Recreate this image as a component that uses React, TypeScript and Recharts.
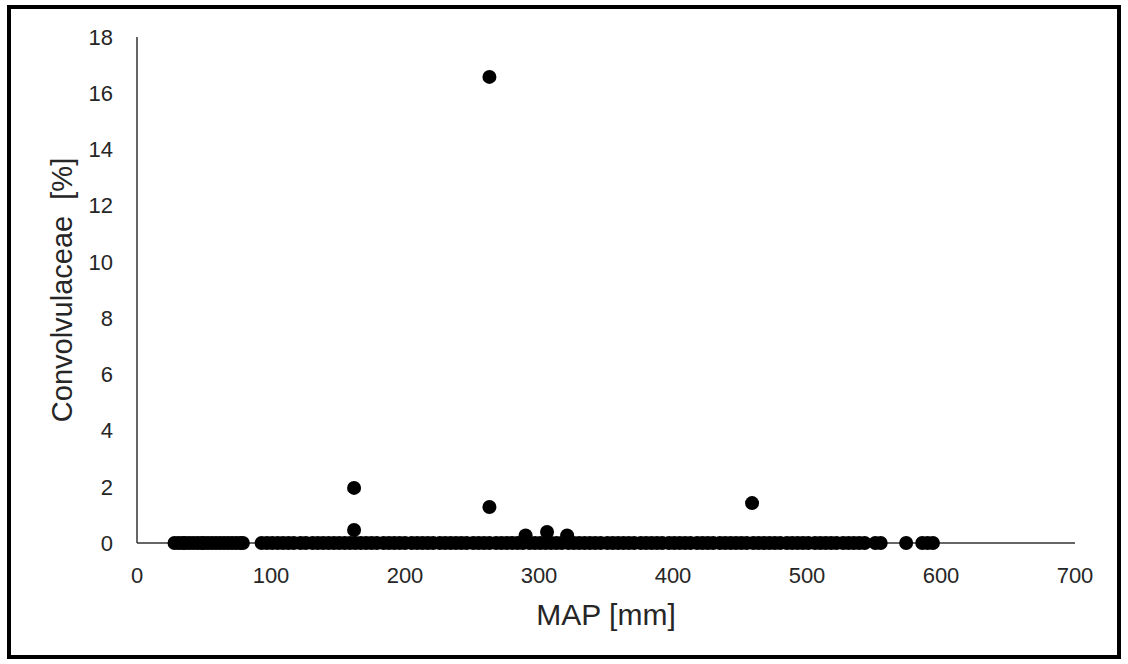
import { ScatterChart, Scatter, XAxis, YAxis } from "recharts";

// samples with zero Convolvulaceae, by MAP [mm]
const zeroMap = [
  28, 31, 34, 36, 39, 42, 45, 48, 50, 53, 56, 59, 62, 65, 68, 71, 74, 77, 79,
  93, 97, 101, 105, 109, 113, 117, 122, 126, 131, 135, 139, 143, 147, 151, 155,
  159, 163, 167, 171, 175, 179, 184, 188, 192, 196, 200, 205, 209, 213, 217,
  221, 226, 230, 234, 238, 242, 246, 251, 255, 259, 263, 268, 272, 276, 280,
  284, 288, 293, 297, 301, 305, 309, 313, 317, 322, 326, 330, 334, 338, 342,
  346, 351, 355, 359, 363, 367, 371, 376, 380, 384, 388, 392, 397, 401, 405,
  409, 413, 418, 422, 426, 430, 435, 439, 443, 447, 451, 455, 460, 464, 468,
  472, 476, 480, 485, 489, 493, 497, 501, 506, 510, 514, 518, 522, 527, 531,
  535, 539, 543, 551, 555, 574, 586, 590, 594,
];

// samples with pollen present
const presentMap = [162, 162, 263, 263, 290, 306, 321, 459];
const presentPct = [1.96, 0.46, 16.58, 1.28, 0.27, 0.39, 0.27, 1.42];

const xTicks = [0, 100, 200, 300, 400, 500, 600, 700];
const yTicks = [0, 2, 4, 6, 8, 10, 12, 14, 16, 18];

const data = [
  ...zeroMap.map((map) => ({ map, pct: 0 })),
  ...presentMap.map((map, i) => ({ map, pct: presentPct[i] })),
];

const font = "'Liberation Sans', Arial, sans-serif";
const tickStyle = { fontSize: 22, fill: "#262626", fontFamily: font };

const Dot = (props: any) => <circle cx={props.cx} cy={props.cy} r={7} fill="#000" />;

export default function App() {
  return (
    <div style={{ position: "absolute", left: 0, top: 0, width: 1128, height: 664, background: "#fff" }}>
      <div
        style={{
          position: "absolute",
          left: 7,
          top: 5,
          width: 1114,
          height: 654,
          border: "4px solid #000",
          boxSizing: "border-box",
        }}
      />
      <ScatterChart width={1128} height={664} margin={{ top: 37, right: 53, left: 30, bottom: 39 }}>
        <XAxis
          type="number"
          dataKey="map"
          domain={[0, 700]}
          ticks={xTicks}
          tickSize={0}
          tickMargin={24}
          height={82}
          axisLine={{ stroke: "#333", strokeWidth: 1.5 }}
          tick={tickStyle}
          label={{
            value: "MAP [mm]",
            position: "insideBottom",
            offset: 0,
            style: { fontSize: 30, fill: "#262626", fontFamily: font },
          }}
        />
        <YAxis
          type="number"
          dataKey="pct"
          domain={[0, 18]}
          ticks={yTicks}
          tickSize={0}
          tickMargin={24}
          width={107}
          axisLine={{ stroke: "#333", strokeWidth: 1.5 }}
          tick={tickStyle}
          label={{
            value: "Convolvulaceae\u00a0 [%]",
            angle: -90,
            position: "insideLeft",
            offset: 32,
            style: { fontSize: 29, fill: "#262626", fontFamily: font, textAnchor: "middle" },
          }}
        />
        <Scatter data={data} fill="#000" shape={Dot} isAnimationActive={false} />
      </ScatterChart>
    </div>
  );
}
